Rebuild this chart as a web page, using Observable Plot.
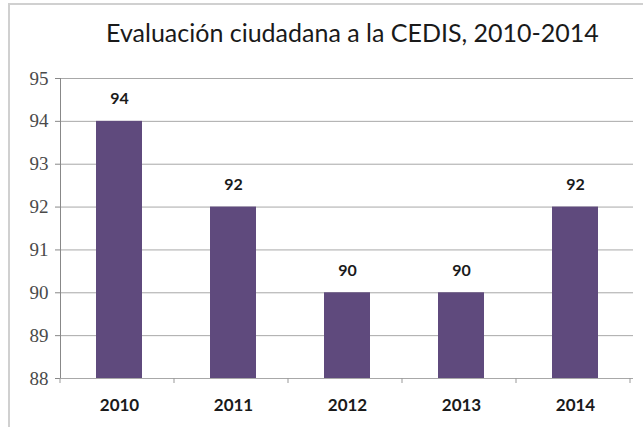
<!DOCTYPE html>
<html><head><meta charset="utf-8">
<script src="https://cdn.jsdelivr.net/npm/d3@7"></script>
<script src="https://cdn.jsdelivr.net/npm/@observablehq/plot@0.6"></script>
<style>
body{margin:0;background:#fff;overflow:hidden;}
#frame{position:absolute;left:8px;top:3px;right:0;bottom:0;border-left:2px solid #d0d0d0;border-top:2px solid #d0d0d0;background:#fff;}
#title{position:absolute;left:0;top:17px;width:643px;text-align:center;font-family:Lato,"Open Sans",sans-serif;font-size:25px;color:#1a1a1a;padding-left:62px;box-sizing:border-box;}
#chart{position:absolute;left:0;top:60px;}
</style></head>
<body>
<div id="frame"></div>
<div id="title">Evaluación ciudadana a la CEDIS, 2010-2014</div>
<div id="chart"></div>
<script>
const years = ["2010","2011","2012","2013","2014"];
const values = [94, 92, 90, 90, 92];
const yTicks = [88, 89, 90, 91, 92, 93, 94, 95];
const data = years.map((y, i) => ({year: y, value: values[i]}));

const plot = Plot.plot({
  width: 643, height: 360,
  marginTop: 18, marginBottom: 42, marginLeft: 60, marginRight: 10,
  x: {domain: years, paddingInner: 0.6, paddingOuter: 0.3, label: null},
  y: {domain: [88, 95], ticks: yTicks, label: null},
  style: {background: "transparent", fontFamily: "'Liberation Serif', 'DejaVu Serif', serif"},
  marks: [
    Plot.ruleY(yTicks, {stroke: "#a8a8a8", strokeWidth: 1}),
    Plot.barY(data, {x: "year", y1: 88, y2: "value", fill: "#5F4A7D"}),
    Plot.text(data, {x: "year", y: "value", text: d => String(d.value), dy: -22, fontWeight: "bold", fontSize: 16, fill: "#1a1a1a", fontFamily: "Lato, sans-serif"}),
    Plot.axisY({ticks: yTicks, tickFormat: "d", tickSize: 5, tickPadding: 7, stroke: "#888", fontSize: 19, fill: "#4a4a4a"}),
    Plot.axisX({tickSize: 0, tickPadding: 20, fontSize: 17, fontWeight: "bold", fontFamily: "Lato, sans-serif", fill: "#1a1a1a"})
  ]
});
document.getElementById("chart").appendChild(plot);

const xs = plot.scale("x"), ys = plot.scale("y");
const svg = d3.select(plot);
const x0 = xs.range[0];
const y88 = ys.apply(88), y95 = ys.apply(95);
svg.append("line").attr("x1", x0 + 0.5).attr("x2", x0 + 0.5).attr("y1", y95).attr("y2", y88).attr("stroke", "#888");
const step = xs.step;
const bounds = d3.range(years.length + 1).map(i => x0 + i * step);
svg.selectAll("line.bt").data(bounds).join("line").attr("class","bt")
  .attr("x1", d => d).attr("x2", d => d).attr("y1", y88).attr("y2", y88 + 5).attr("stroke", "#999");
</script>
</body></html>
